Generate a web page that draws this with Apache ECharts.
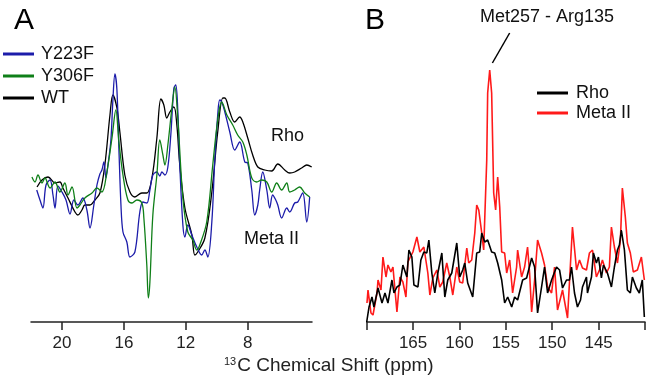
<!DOCTYPE html>
<html><head><meta charset="utf-8">
<script src="https://cdn.jsdelivr.net/npm/echarts@6/dist/echarts.min.js"></script>
<style>html,body{margin:0;padding:0;background:#fff}#c{width:647px;height:381px}</style>
</head><body><div id="c"></div>
<script>
// Panel A: 13C chemical shift (ppm), intensity (arbitrary units)
const ticksA = [8, 12, 16, 20];
const ticksB = [140, 145, 150, 155, 160, 165, 170];
const labelsB = [145, 150, 155, 160, 165];

const y223f = [[21.63,132],[21.42,122],[21.23,114],[21.03,137],[20.77,142],[20.58,127],[20.45,114],[20.26,136],[20.00,130],[19.74,122],[19.48,108],[19.23,122],[18.97,117],[18.65,124],[18.39,112],[18.19,94],[17.94,117],[17.74,137],[17.55,148],[17.42,152],[17.29,160],[17.16,144],[17.03,157],[16.84,182],[16.71,222],[16.58,248],[16.45,232],[16.32,172],[16.19,117],[16.06,90],[15.81,80],[15.61,65],[15.29,70],[14.97,110],[14.77,120],[14.52,119],[14.32,132],[14.13,147],[13.87,150],[13.68,146],[13.55,150],[13.35,147],[13.16,155],[12.97,187],[12.77,234],[12.65,237],[12.52,212],[12.39,157],[12.19,97],[12.06,85],[11.87,97],[11.61,87],[11.29,75],[10.97,67],[10.77,72],[10.58,65],[10.32,100],[10.13,162],[9.94,207],[9.81,222],[9.68,220],[9.48,210],[9.16,190],[8.84,172],[8.52,180],[8.19,160],[8.00,159],[7.74,132],[7.55,107],[7.35,117],[7.23,132],[7.03,150],[6.77,132],[6.58,114],[6.39,127],[6.19,122],[6.06,117],[5.81,104],[5.48,114],[5.29,110],[4.97,119],[4.77,120],[4.45,129],[4.19,100],[4.00,125]];

const y306f = [[21.94,145],[21.74,140],[21.55,147],[21.29,139],[21.10,144],[20.77,134],[20.45,140],[20.13,130],[19.81,139],[19.61,127],[19.35,135],[19.03,114],[18.84,117],[18.52,124],[18.06,129],[17.74,134],[17.42,130],[17.10,150],[16.77,184],[16.52,212],[16.32,180],[16.06,147],[15.74,122],[15.48,119],[15.16,122],[14.84,119],[14.71,104],[14.52,57],[14.42,24],[14.32,40],[14.13,107],[13.87,147],[13.68,182],[13.48,167],[13.35,157],[13.16,177],[12.90,214],[12.71,235],[12.52,204],[12.19,124],[11.87,90],[11.55,82],[11.29,72],[11.10,77],[10.65,100],[10.26,157],[9.94,202],[9.68,220],[9.35,207],[8.97,197],[8.65,187],[8.32,180],[8.06,167],[7.74,144],[7.42,140],[7.10,142],[6.77,140],[6.45,130],[6.13,139],[5.81,132],[5.48,139],[5.29,130],[4.97,132],[4.65,135],[4.32,129],[4.00,125]];

const wt = [[21.61,135],[21.29,142],[20.90,145],[20.45,139],[20.13,140],[19.94,134],[19.61,124],[19.16,110],[18.97,107],[18.71,112],[18.52,117],[18.19,117],[17.87,122],[17.55,129],[17.23,157],[16.90,207],[16.71,227],[16.45,214],[16.26,190],[15.94,147],[15.61,130],[15.29,125],[14.84,129],[14.52,129],[14.19,144],[13.87,184],[13.61,223],[13.42,217],[13.23,204],[13.03,210],[12.77,215],[12.58,197],[12.39,157],[12.06,114],[11.61,87],[11.42,67],[11.23,70],[10.77,84],[10.32,130],[9.94,190],[9.61,224],[9.48,224],[9.16,210],[8.84,200],[8.52,205],[8.32,200],[8.00,184],[7.68,167],[7.35,155],[6.90,152],[6.45,151],[6.06,158],[5.61,152],[5.29,149],[4.97,150],[4.52,154],[4.19,157],[3.87,155]];

// Panel B
const rho = [[170.00,0],[169.75,15],[169.43,25],[169.22,15],[168.78,34],[168.35,19],[168.03,29],[167.71,19],[167.28,42],[167.06,29],[166.74,35],[166.42,37],[166.10,57],[165.67,45],[165.45,72],[165.13,65],[164.91,37],[164.48,35],[164.16,62],[163.84,70],[163.52,69],[163.30,82],[162.98,49],[162.66,29],[162.33,49],[161.90,69],[161.58,25],[161.26,42],[160.83,49],[160.29,79],[159.97,45],[159.65,52],[159.43,59],[159.11,39],[158.57,25],[158.14,69],[157.82,70],[157.60,89],[157.28,80],[156.96,82],[156.53,70],[156.20,69],[155.88,59],[155.45,42],[155.13,19],[154.80,25],[154.37,15],[154.05,25],[153.73,22],[153.19,42],[152.76,44],[152.22,64],[151.90,55],[151.58,9],[151.15,35],[150.83,55],[150.50,29],[150.07,42],[149.54,55],[149.21,52],[148.89,34],[148.46,42],[148.14,42],[147.92,55],[147.60,29],[147.28,15],[146.95,22],[146.74,35],[146.31,45],[146.20,29],[145.77,45],[145.56,69],[145.24,59],[145.02,65],[144.70,44],[144.48,57],[144.05,49],[143.62,35],[143.30,55],[142.97,72],[142.76,77],[142.55,92],[142.22,72],[141.90,32],[141.58,29],[141.36,45],[140.93,34],[140.61,29],[140.29,42],[140.07,5]];

const metaII = [[169.97,19],[169.86,32],[169.54,9],[169.32,7],[168.89,29],[168.78,42],[168.46,32],[168.25,65],[167.92,45],[167.71,57],[167.39,50],[167.17,55],[166.74,10],[166.42,45],[166.10,40],[165.77,25],[165.56,60],[165.02,70],[164.59,85],[164.27,70],[163.84,75],[163.41,49],[163.19,27],[162.87,44],[162.44,52],[162.12,35],[161.80,40],[161.37,59],[161.04,45],[160.72,27],[160.29,55],[159.97,40],[159.65,39],[159.21,74],[159.00,59],[158.68,62],[158.35,89],[158.14,117],[157.92,112],[157.60,89],[157.39,72],[157.06,162],[156.96,229],[156.74,252],[156.53,229],[156.31,129],[156.10,112],[155.88,145],[155.66,115],[155.45,70],[155.13,69],[154.91,49],[154.59,62],[154.27,29],[153.84,55],[153.73,72],[153.30,45],[152.98,55],[152.66,75],[152.44,49],[152.22,10],[151.90,42],[151.58,82],[151.15,69],[150.83,57],[150.50,35],[150.07,29],[149.75,55],[149.43,12],[148.89,32],[148.35,4],[147.82,95],[147.38,52],[147.06,62],[146.74,54],[146.31,52],[145.99,69],[145.66,72],[145.24,45],[144.91,52],[144.59,62],[144.16,49],[143.84,55],[143.62,95],[143.30,75],[142.97,59],[142.65,82],[142.44,134],[142.12,105],[141.90,79],[141.58,69],[141.26,50],[140.82,52],[140.39,65],[140.07,42]];

const FONT = "'Liberation Sans', Arial, Helvetica, sans-serif";
const AX = '#222';
const chart = echarts.init(document.getElementById('c'), null, {renderer: 'canvas'});

function xAxisCfg(grid, min, max, ticks, labels) {
  return {
    gridIndex: grid, type: 'value', inverse: true, min: min, max: max,
    axisLine: {show: true, onZero: false, lineStyle: {color: AX, width: 1.5}},
    axisTick: {show: true, length: 8, customValues: ticks, lineStyle: {color: AX, width: 1.5}},
    axisLabel: {customValues: labels, fontSize: 17, margin: 13, color: AX, fontFamily: FONT},
    splitLine: {show: false}
  };
}
function line(name, data, color, xi, width, smooth) {
  return {
    name: name, type: 'line', xAxisIndex: xi, yAxisIndex: xi, data: data,
    showSymbol: false, symbol: 'none', smooth: smooth, animation: false,
    lineStyle: {color: color, width: width}, itemStyle: {color: color}
  };
}

const redSeries = line('Meta II', metaII, '#ff1a1a', 1, 1.6, false);
redSeries.markLine = {
  silent: true, symbol: 'none', animation: false,
  label: {show: false},
  lineStyle: {color: '#000', width: 1.5, type: 'solid'},
  data: [[{coord: [154.59, 289]}, {coord: [156.45, 259]}]]
};

chart.setOption({
  backgroundColor: '#fff',
  animation: false,
  grid: [
    {left: 31, right: 335, top: 10, bottom: 59},
    {left: 366.7, right: 2, top: 10, bottom: 59}
  ],
  xAxis: [xAxisCfg(0, 3.85, 22, ticksA, ticksA), xAxisCfg(1, 140, 170, ticksB, labelsB)],
  yAxis: [
    {gridIndex: 0, type: 'value', min: 0, max: 312, show: false},
    {gridIndex: 1, type: 'value', min: 0, max: 312, show: false}
  ],
  legend: [
    {data: ['Y223F', 'Y306F', 'WT'], orient: 'vertical', left: 3, top: 43, padding: 0,
     itemWidth: 31, itemHeight: 3, icon: 'rect', itemGap: 0, selectedMode: false,
     textStyle: {fontSize: 18, lineHeight: 22, color: '#111', fontFamily: FONT, padding: [0, 0, 0, 2]}},
    {data: ['Rho', 'Meta II'], orient: 'vertical', left: 537, top: 83, padding: 0,
     itemWidth: 31, itemHeight: 3, icon: 'rect', itemGap: 0, selectedMode: false,
     textStyle: {fontSize: 18, lineHeight: 20, color: '#111', fontFamily: FONT, padding: [0, 0, 0, 3]}}
  ],
  series: [
    line('WT', wt, '#000000', 0, 1.3, 0.35),
    line('Y223F', y223f, '#1c1caa', 0, 1.3, 0.35),
    line('Y306F', y306f, '#0f7f18', 0, 1.3, 0.35),
    redSeries,
    line('Rho', rho, '#000000', 1, 1.6, false)
  ],
  graphic: [
    {type: 'text', left: 14, top: 6, style: {text: 'A', font: '30px ' + FONT, fill: '#000'}},
    {type: 'text', left: 365, top: 6, style: {text: 'B', font: '30px ' + FONT, fill: '#000'}},
    {type: 'text', left: 271, top: 127, style: {text: 'Rho', font: '18px ' + FONT, fill: '#111'}},
    {type: 'text', left: 244, top: 230, style: {text: 'Meta II', font: '18px ' + FONT, fill: '#111'}},
    {type: 'text', left: 480, top: 8, style: {text: 'Met257 - Arg135', font: '18px ' + FONT, fill: '#111'}},
    {type: 'text', left: 224, top: 356, style: {
      text: '{sup|13}{t|C Chemical Shift (ppm)}',
      rich: {sup: {fontSize: 11, fontFamily: FONT, fill: '#222', verticalAlign: 'top', padding: [0, 1, 8, 0]},
             t: {fontSize: 19, fontFamily: FONT, fill: '#222'}}
    }}
  ]
});
</script></body></html>
